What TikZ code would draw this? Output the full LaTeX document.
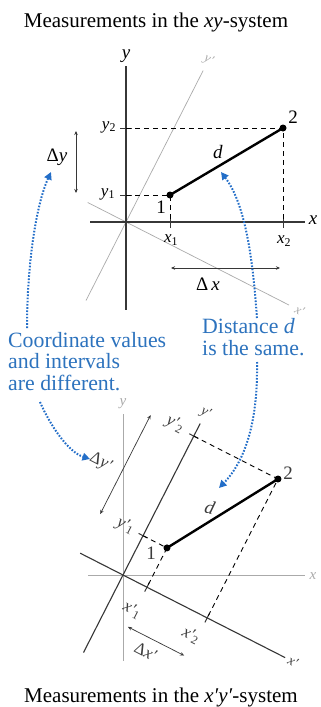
\documentclass[tikz,border=0pt]{standalone}
\usepackage{fontspec}
\setmainfont{Liberation Serif}
\usetikzlibrary{arrows.meta,calc}
\definecolor{axisc}{RGB}{55,55,55}
\definecolor{lgray}{RGB}{170,170,170}
\definecolor{rgray}{RGB}{60,60,60}
\definecolor{bluec}{RGB}{35,110,200}
\definecolor{bluet}{RGB}{45,115,190}
\newcommand{\isub}[2]{\textit{#1}\textsubscript{#2}}
\newcommand{\psub}[2]{\textit{#1′}\textsubscript{#2}}
\begin{document}
\begin{tikzpicture}[x=1pt,y=1pt,
  axis/.style={axisc, line width=1.3pt},
  thinax/.style={lgray, line width=0.7pt},
  tickln/.style={axisc, line width=1pt},
  dashln/.style={black, dash pattern=on 5pt off 4pt, line width=0.9pt},
  ptdot/.style={circle, fill=black, inner sep=0pt, minimum size=7pt},
  seg/.style={line width=2.4pt, black},
  lbl/.style={font=\fontsize{19}{20}\selectfont, inner sep=0pt},
  slbl/.style={font=\fontsize{17}{18}\selectfont, inner sep=0pt},
  rlbl/.style={font=\fontsize{17}{18}\selectfont, inner sep=0pt, rgray, rotate=-27},
  glbl/.style={font=\fontsize{13}{14}\selectfont, inner sep=0pt, lgray, rotate=-27},
  garrow/.style={axisc, line width=0.8pt, {Stealth[length=4pt,width=3.5pt]}-{Stealth[length=4pt,width=3.5pt]}},
  dotarrow/.style={bluec, line width=2pt, dash pattern=on 1.6pt off 1.6pt, -{Triangle[length=7.5pt,width=7.5pt]}},
  bluetext/.style={bluet, font=\fontsize{21.8}{22}\selectfont, inner sep=0pt, anchor=base west},
  title/.style={font=\fontsize{21}{22}\selectfont, inner sep=0pt, anchor=base}
]
\fill[white] (0,0) rectangle (321,-707);
\useasboundingbox (0,0) rectangle (321,-707);

% titles
\node[title] (t1) at (156,-27.5) {Measurements in the \textit{xy}-system};
\node[title] (t2) at (161,-702) {Measurements in the \textit{x′y′}-system};

% ===== top diagram =====
\coordinate (O1) at (126,-222);
\draw[thinax] ($(O1)+(243:88)$) -- ($(O1)+(63:170)$);
\draw[thinax] ($(O1)+(153:43)$) -- ($(O1)+(-27:183)$);
\node[glbl] (ypt) at ($(O1)+(63:182)$) {\textit{y′}};
\node[glbl] (xpt) at ($(O1)+(-27:195)$) {\textit{x′}};

\coordinate (ya1) at (126,-66);
\coordinate (yb1) at (126,-310);
\coordinate (xa1) at (90,-222);
\coordinate (xb1) at (305,-222);
\draw[axis] (ya1) -- (yb1);
\draw[axis] (xa1) -- (xb1);
\node[lbl] (ylab1) at (126,-56) {\textit{y}};
\node[lbl] (xlab1) at (313,-220) {\textit{x}};

\coordinate (ty1) at (126,-195);
\coordinate (ty2) at (126,-128);
\coordinate (tx1) at (170,-222);
\coordinate (tx2) at (283,-222);
\draw[tickln] ($(ty1)+(-6,0)$) -- ($(ty1)+(6,0)$);
\draw[tickln] ($(ty2)+(-6,0)$) -- ($(ty2)+(6,0)$);
\draw[tickln] ($(tx1)+(0,-6)$) -- ($(tx1)+(0,6)$);
\draw[tickln] ($(tx2)+(0,-6)$) -- ($(tx2)+(0,6)$);

\node[ptdot] (p1) at (170,-195) {};
\node[ptdot] (p2) at (283,-128) {};
\draw[dashln] (ty2) -- (p2.center) -- (tx2);
\draw[dashln] (ty1) -- (p1.center) -- (tx1);
\draw[seg] (p1.center) -- (p2.center);

\node[slbl] (ly2) at (109,-127) {\isub{y}{2}};
\node[slbl] (ly1) at (108,-194) {\isub{y}{1}};
\node[slbl] (lx1) at (171,-240) {\isub{x}{1}};
\node[slbl] (lx2) at (284,-241) {\isub{x}{2}};
\node[lbl] (n1) at (161,-207) {1};
\node[lbl] (n2) at (293,-117) {2};
\node[lbl] (ld1) at (218,-152) {\textit{d}};

\coordinate (dya) at (76,-131);
\coordinate (dyb) at (76,-193);
\draw[garrow] (dya) -- (dyb);
\node[lbl] (ldy) at (57,-157) {Δ\textit{y}};
\coordinate (dxa) at (171,-268);
\coordinate (dxb) at (280,-268);
\draw[garrow] (dxa) -- (dxb);
\node[lbl] (ldx) at (208,-284) {Δ\,\textit{x}};

% ===== blue texts =====
\node[bluetext] (cv1) at (8,-347) {Coordinate values};
\node[bluetext] (cv2) at (8,-368.5) {and intervals};
\node[bluetext] (cv3) at (8,-390) {are different.};
\node[bluetext] (ds1) at (202,-333) {Distance \textit{d}};
\node[bluetext] (ds2) at (202,-355) {is the same.};

\coordinate (b1s) at (27,-328);
\coordinate (b1e) at (51,-172);
\draw[dotarrow] (b1s) .. controls (27,-265) and (36,-205) .. (b1e);
\coordinate (b2s) at (40,-402);
\coordinate (b2e) at (90,-459);
\draw[dotarrow] (b2s) .. controls (50,-425) and (68,-452) .. (b2e);
\coordinate (b3s) at (257,-318);
\coordinate (b3e) at (221,-172);
\draw[dotarrow] (b3s) .. controls (253,-262) and (246,-205) .. (b3e);
\coordinate (b4s) at (257,-362);
\coordinate (b4e) at (219,-488);
\draw[dotarrow] (b4s) .. controls (258,-420) and (246,-460) .. (b4e);

% ===== bottom diagram =====
\coordinate (O2) at (123,-575);
\coordinate (gya) at (123,-414);
\coordinate (gyb) at (123,-661);
\coordinate (gxa) at (88,-575);
\coordinate (gxb) at (305,-575);
\draw[thinax, line width=0.6pt] (gya) -- (gyb);
\draw[thinax, line width=0.6pt] (gxa) -- (gxb);
\node[font=\fontsize{15}{16}\selectfont, inner sep=0pt, lgray] (gyl) at (123,-404) {\textit{y}};
\node[font=\fontsize{15}{16}\selectfont, inner sep=0pt, lgray] (gxl) at (313,-576) {\textit{x}};

\begin{scope}[shift={(O2)}, rotate=-27]
  \coordinate (xpa) at (-48,0);
  \coordinate (xpb) at (182,0);
  \coordinate (ypa) at (0,-87);
  \coordinate (ypb) at (0,170);
  \draw[axis, line width=1.1pt] (xpa) -- (xpb);
  \draw[axis, line width=1.1pt] (ypa) -- (ypb);
  \coordinate (fx1) at (26.9,0);
  \coordinate (fx2) at (94.5,0);
  \coordinate (fy1) at (0,44.1);
  \coordinate (fy2) at (0,155.9);
  \draw[tickln] (26.9,-5) -- (26.9,5);
  \draw[tickln] (94.5,-5) -- (94.5,5);
  \draw[tickln] (-5,44.1) -- (5,44.1);
  \draw[tickln] (-5,155.9) -- (5,155.9);
  \node[ptdot] (q1) at (26.9,44.1) {};
  \node[ptdot] (q2) at (94.5,155.9) {};
  \draw[dashln] (fy2) -- (q2.center) -- (fx2);
  \draw[dashln] (fy1) -- (q1.center) -- (fx1);
  \draw[seg] (q1.center) -- (q2.center);
  \coordinate (dypa) at (-48,44);
  \coordinate (dypb) at (-48,155);
  \draw[garrow, line width=0.7pt] (dypa) -- (dypb);
  \coordinate (dxpa) at (28,-44);
  \coordinate (dxpb) at (91,-44);
  \draw[garrow, line width=0.7pt] (dxpa) -- (dxpb);
  \node[rlbl] (lxp1) at (24,-27) {\psub{x}{1}};
  \node[rlbl] (lxp2) at (88,-23) {\psub{x}{2}};
  \node[rlbl] (ldxp) at (55,-58) {Δ\textit{x′}};
  \node[rlbl] (lyp1) at (-20,45) {\psub{y}{1}};
  \node[rlbl] (lyp2) at (-22,158) {\psub{y}{2}};
  \node[rlbl] (ldyp) at (-71,90) {Δ\textit{y′}};
  \node[rlbl, font=\fontsize{14}{15}\selectfont] (lyp) at (0,182) {\textit{y′}};
  \node[rlbl, font=\fontsize{14}{15}\selectfont] (lxp) at (191,0) {\textit{x′}};
\end{scope}
\node[lbl, rgray] (m1) at (151,-553) {1};
\node[lbl, rgray] (m2) at (288,-473) {2};
\node[lbl, rgray, rotate=-15] (ld2) at (210,-507) {\textit{d}};
\end{tikzpicture}
\end{document}
